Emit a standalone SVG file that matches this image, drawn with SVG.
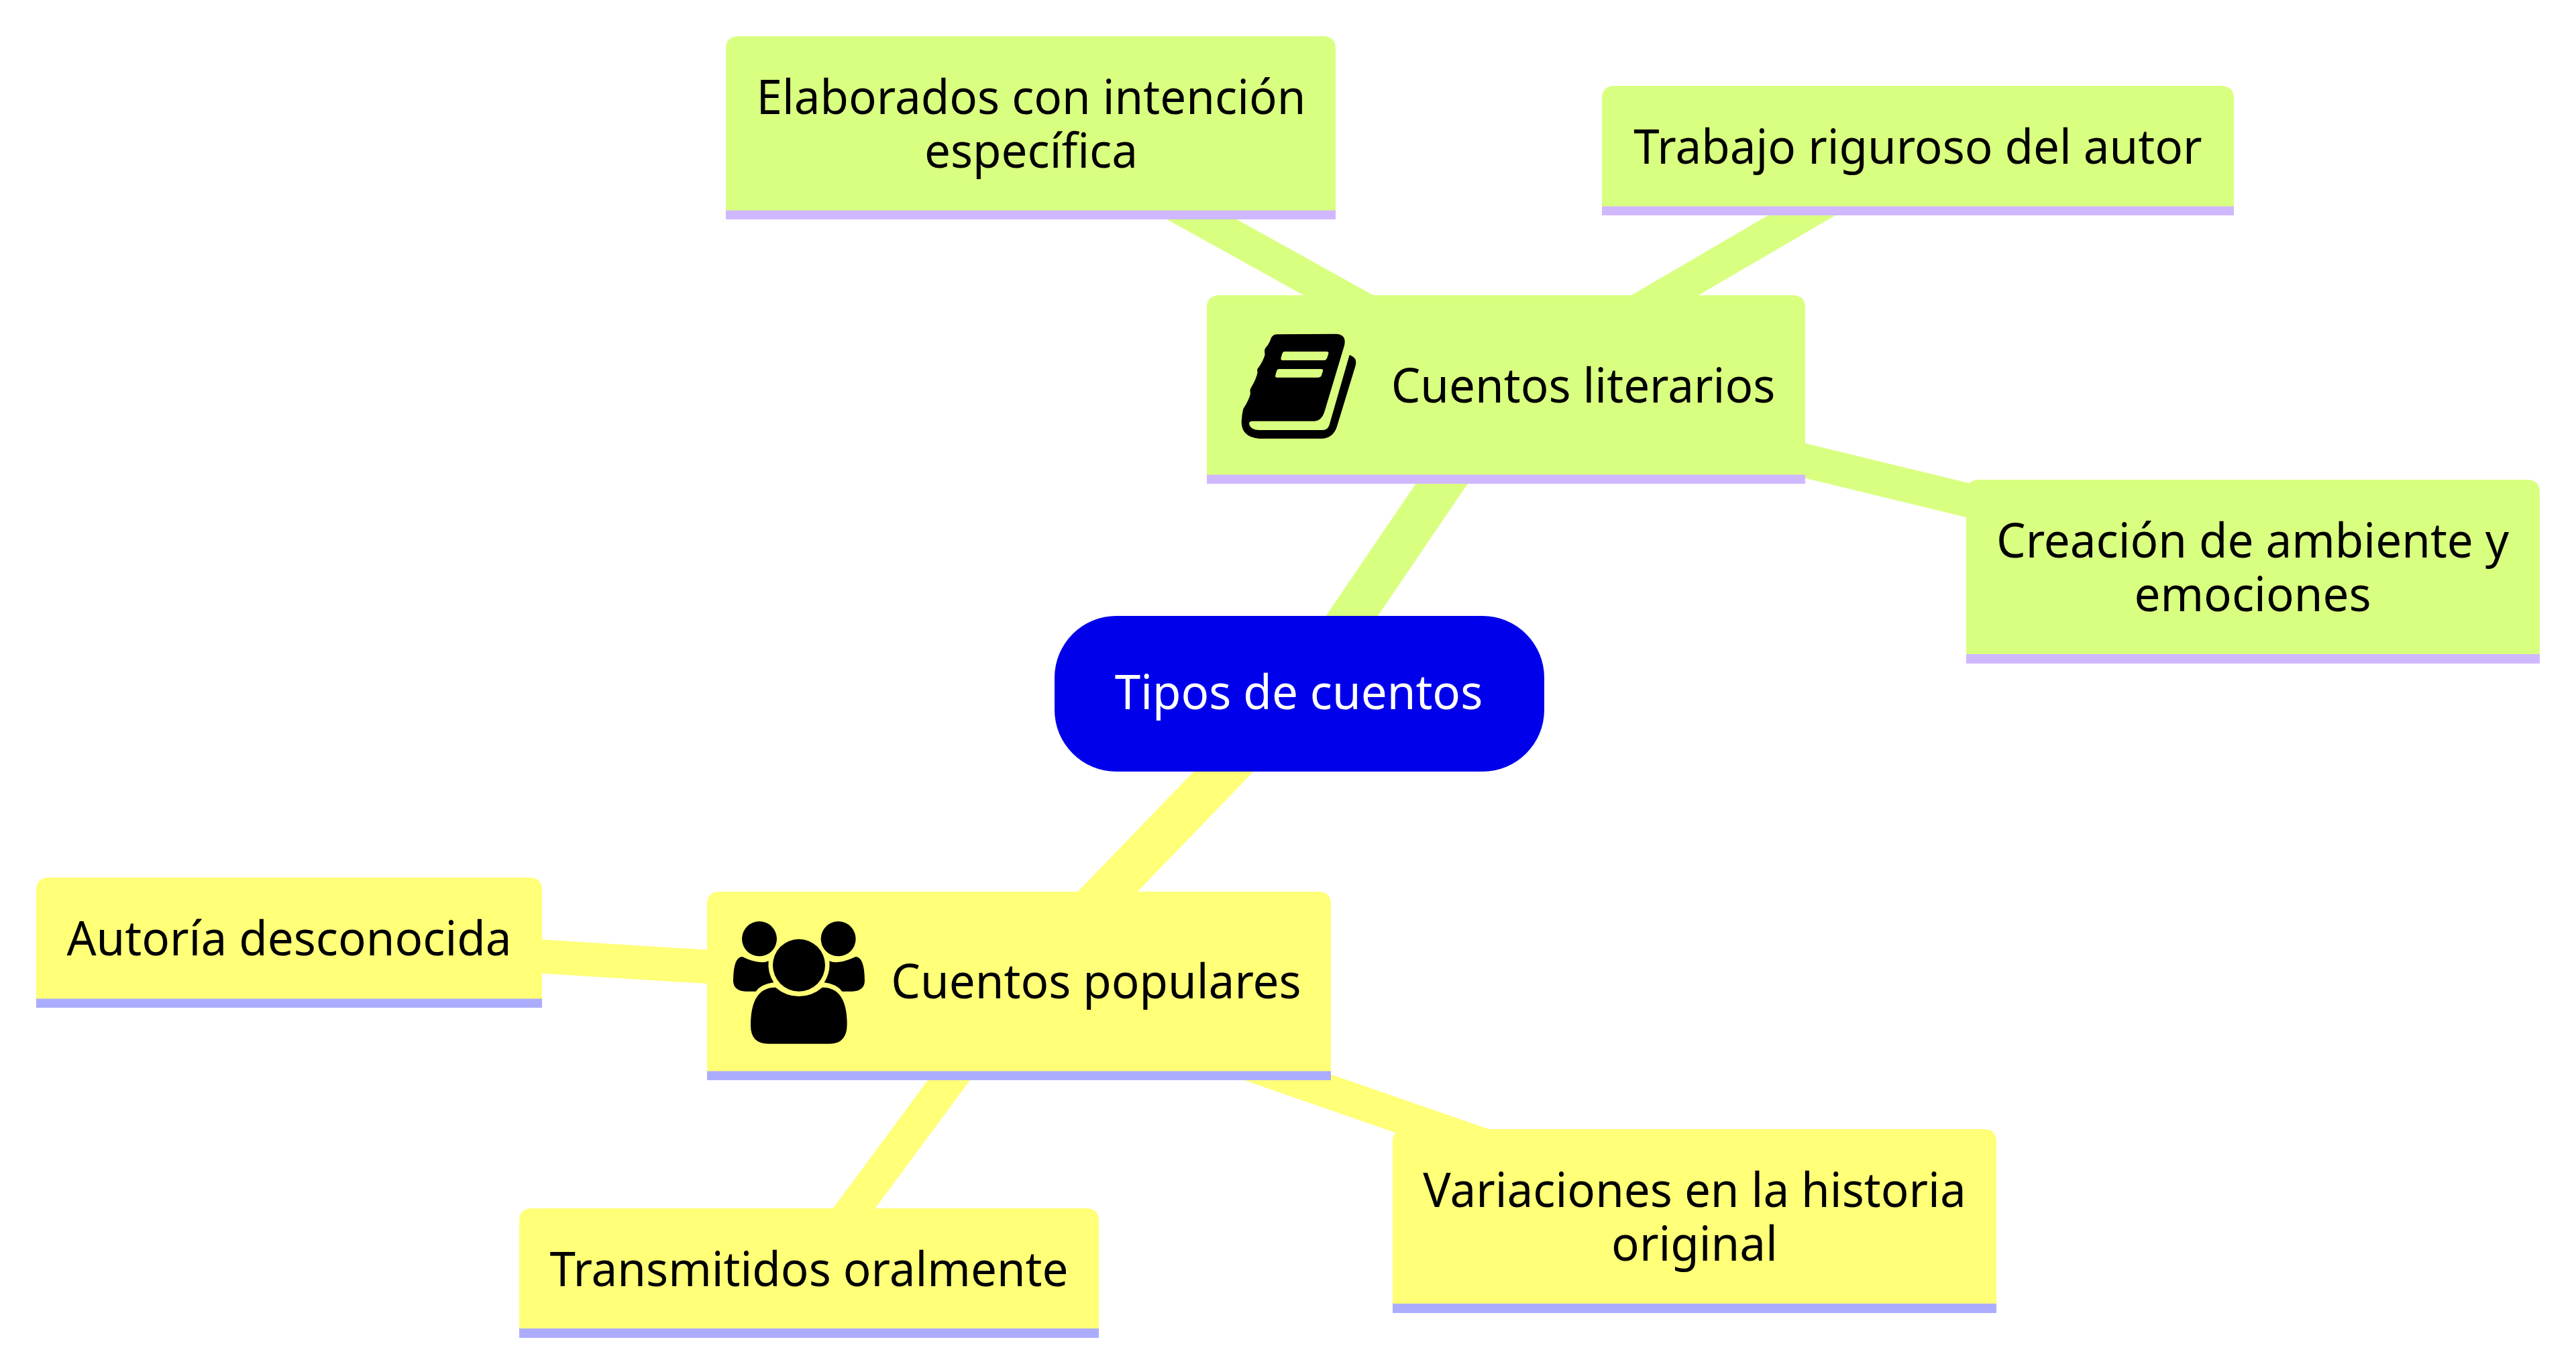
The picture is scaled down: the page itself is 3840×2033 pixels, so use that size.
<svg xmlns="http://www.w3.org/2000/svg" width="3840" height="2033" viewBox="0 0 3840 2033">
<style>
text{font-family:"Noto Sans","Open Sans",sans-serif;font-size:72px;text-anchor:middle;fill:#000;transform-box:fill-box;transform-origin:center;transform:scaleX(.96)}
#root text{fill:#fff}
.e{fill:none;stroke-linecap:butt}
.d1{stroke-width:64}.d2{stroke-width:50.5}
.lime{stroke:#d9ff80}.yel{stroke:#ffff78}
.nl{fill:#d9ff80}.ny{fill:#ffff78}
.bl{fill:#d0b8ff}.by{fill:#acacff}
</style>
<rect width="3840" height="2033" fill="#fff"/>
<g id="connectors">
<line class="e d1 lime" x1="1937" y1="1033" x2="2245" y2="580"/>
<line class="e d1 yel" x1="1937" y1="1033" x2="1515" y2="1470"/>
<line class="e d2 lime" x1="2247" y1="580" x2="1545" y2="190"/>
<line class="e d2 lime" x1="2242" y1="580" x2="2852" y2="224"/>
<line class="e d2 lime" x1="2245" y1="578" x2="3358" y2="849"/>
<line class="e d2 yel" x1="1519" y1="1470" x2="431" y2="1402"/>
<line class="e d2 yel" x1="1518" y1="1470" x2="1203" y2="1896"/>
<line class="e d2 yel" x1="1519" y1="1467" x2="2526" y2="1816"/>
</g>
<g id="root"><rect x="1572" y="918" width="730" height="232" rx="92" fill="#0000ea"/><text x="1936" y="1057">Tipos de cuentos</text></g>
<g id="literarios">
<path class="nl" d="M1799 721V459Q1799 440 1818 440H2672Q2691 440 2691 459V721Z"/>
<rect class="bl" x="1799" y="707.5" width="892" height="13.5"/>
<path transform="translate(1820 480) scale(.3333)" fill-rule="evenodd" d="M258 55L515 53Q563 55 552 105L465 395Q452 443 415 443L137 443Q122 446 128 462Q138 483 170 483L455 483Q478 483 485 460L575 147Q612 160 602 195L518 470Q500 520 450 521L170 521Q92 515 92 445Q93 415 100 388Q125 350 132 320Q128 300 135 293Q158 255 164 225Q160 212 165 208Q190 175 197 145Q193 125 198 118Q218 95 225 70Q235 52 258 55ZM285 132L472 132Q483 132 481 142L475 160Q472 171 460 171L275 171Q266 171 269 160L274 142Q277 132 285 132ZM260 210L448 210Q458 210 456 220L450 238Q447 248 435 248L250 248Q241 248 244 238L249 220Q252 210 260 210Z"/>
<text x="2360" y="600">Cuentos literarios</text>
</g>
<g id="populares">
<path class="ny" d="M1054 1610V1348Q1054 1329 1073 1329H1965Q1984 1329 1984 1348V1610Z"/>
<rect class="by" x="1054" y="1596.5" width="930" height="13.5"/>
<g transform="translate(1080 1350) scale(.3333)">
<circle cx="156" cy="148" r="78"/><circle cx="509" cy="148" r="78"/><circle cx="333" cy="266" r="117"/>
<path d="M228 365Q275 405 333 405Q390 405 438 365Q548 365 548 530Q548 617 470 617L195 617Q117 617 117 535Q117 365 228 365Z"/>
<path d="M80 228Q130 253 170 253Q185 253 197 247Q192 300 220 343Q165 350 140 383L95 383Q39 380 39 335Q40 228 80 228Z"/>
<path d="M586 228Q536 253 496 253Q481 253 469 247Q474 300 446 343Q501 350 526 383L571 383Q627 380 627 335Q626 228 586 228Z"/>
</g>
<text x="1634" y="1488">Cuentos populares</text>
</g>
<g id="elaborados">
<path class="nl" d="M1082 327V73Q1082 54 1101 54H1972Q1991 54 1991 73V327Z"/>
<rect class="bl" x="1082" y="313.5" width="909" height="13.5"/>
<text x="1537" y="170">Elaborados con intención</text><text x="1537" y="250">específica</text>
</g>
<g id="trabajo">
<path class="nl" d="M2388 321V147Q2388 128 2407 128H3311Q3330 128 3330 147V321Z"/>
<rect class="bl" x="2388" y="307.5" width="942" height="13.5"/>
<text x="2859" y="244">Trabajo riguroso del autor</text>
</g>
<g id="creacion">
<path class="nl" d="M2931 989V734Q2931 715 2950 715H3767Q3786 715 3786 734V989Z"/>
<rect class="bl" x="2931" y="975" width="855" height="14"/>
<text x="3358" y="831">Creación de ambiente y</text><text x="3358" y="911">emociones</text>
</g>
<g id="autoria">
<path class="ny" d="M54 1502V1327Q54 1308 73 1308H789Q808 1308 808 1327V1502Z"/>
<rect class="by" x="54" y="1488.5" width="754" height="13.5"/>
<text x="431" y="1424">Autoría desconocida</text>
</g>
<g id="transmitidos">
<path class="ny" d="M774 1994V1820Q774 1801 793 1801H1619Q1638 1801 1638 1820V1994Z"/>
<rect class="by" x="774" y="1980" width="864" height="14"/>
<text x="1206" y="1917">Transmitidos oralmente</text>
</g>
<g id="variaciones">
<path class="ny" d="M2076 1957V1702Q2076 1683 2095 1683H2957Q2976 1683 2976 1702V1957Z"/>
<rect class="by" x="2076" y="1943" width="900" height="14"/>
<text x="2526" y="1799">Variaciones en la historia</text><text x="2526" y="1879">original</text>
</g>
</svg>
